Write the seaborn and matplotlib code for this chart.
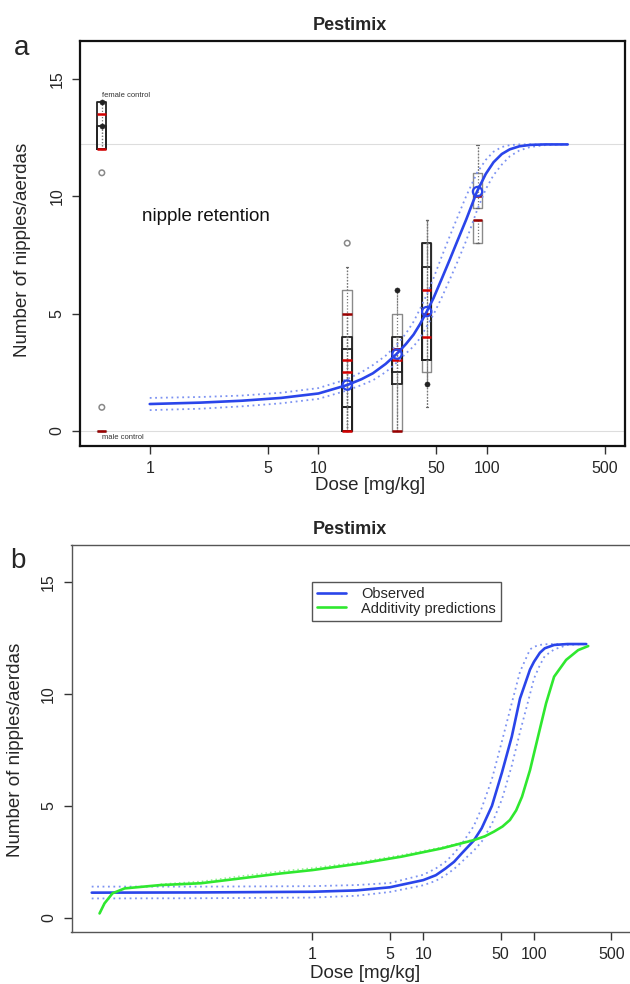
import numpy as np
import pandas as pd
import matplotlib
matplotlib.use("Agg")
import matplotlib.pyplot as plt
import seaborn as sns

# ---------------- data ----------------
# Panel a: fitted dose-response curve and its confidence band
fit_a_dose = [1, 2, 3.5, 6, 10, 14.8, 18, 21, 25, 29, 33, 36.6, 40, 43.8, 48,
              53.9, 60, 66.6, 75, 87, 98, 109, 122, 136, 155, 180, 220, 300]
fit_a_y = [1.14, 1.2, 1.28, 1.4, 1.59, 1.95, 2.2, 2.45, 2.85, 3.27, 3.7, 4.1, 4.55,
           5.08, 5.65, 6.5, 7.3, 8.1, 9.0, 10.2, 10.95, 11.45, 11.8, 12.0, 12.13,
           12.19, 12.21, 12.21]
fit_a_upper = [1.40, 1.44, 1.5, 1.62, 1.82, 2.2, 2.5, 2.8, 3.2, 3.65, 4.15, 4.65, 5.2,
               5.8, 6.5, 7.45, 8.3, 9.1, 10.0, 11.0, 11.55, 11.9, 12.1, 12.18, 12.21,
               12.21, 12.21, 12.21]
fit_a_lower = [0.88, 0.94, 1.04, 1.17, 1.36, 1.72, 1.95, 2.15, 2.5, 2.9, 3.3, 3.6, 3.95,
               4.45, 4.95, 5.7, 6.45, 7.2, 8.1, 9.4, 10.3, 10.9, 11.35, 11.7, 11.95,
               12.1, 12.18, 12.21]
upper_asymptote = 12.21

# Panel a: box plots (several overlapping boxes per dose group)
box_dose = [0.52, 0.52, 0.52, 14.8, 14.8, 14.8, 14.8, 29.2, 29.2, 29.2, 43.8, 43.8, 43.8, 87.6, 87.6]
box_q1   = [12, 12, 0, 0, 1, 0, 0, 0, 2, 2.5, 2.5, 3, 3, 9.5, 8]
box_med  = [13.5, 12, 0, 5, 3, 2.5, 0, 0, 3, 3.5, 5, 6, 4, 10, 9]
box_q3   = [14, 13, 0, 6, 4, 3.5, 1, 5, 4, 3.5, 8, 8, 7, 11, 9]
box_lo   = [12, 12, 0, 0, 0, 0, 0, 0, 0, 2, 1, 2, 3, 9.5, 8]
box_hi   = [14, 13, 0, 7, 5, 4, 3, 6, 4, 4, 9, 9, 8, 12.2, 9]
box_dark = [True, True, False, False, True, True, True, False, True, True, False, True, True, False, False]

open_out_dose = [0.52, 0.52, 14.8]
open_out_y = [11, 1, 8]
filled_out_dose = [0.52, 0.52, 29.2, 43.8]
filled_out_y = [14, 13, 6, 2]
mean_dose = [14.8, 29.2, 43.8, 87.6]
mean_y = [1.95, 3.27, 5.08, 10.2]

ticks_dose = [1, 5, 10, 50, 100, 500]
ticks_dose_labels = ["1", "5", "10", "50", "100", "500"]
ticks_y = [0, 5, 10, 15]

# Panel b: observed curve with band, and additivity predictions
obs_b_dose = [0.0102, 0.1, 1, 2.5, 5, 10, 13, 15.9, 19, 22.3, 28.6, 33.7, 41.7, 51.4, 63,
              74.7, 92, 100, 113, 125, 152, 200, 296]
obs_b_y = [1.12, 1.13, 1.16, 1.22, 1.36, 1.68, 1.9, 2.2, 2.5, 2.88, 3.45, 4.0, 5.0, 6.5, 8.1,
           9.8, 11.1, 11.45, 11.85, 12.05, 12.2, 12.24, 12.24]
obs_b_upper = [1.39, 1.39, 1.41, 1.46, 1.55, 1.92, 2.2, 2.5, 2.88, 3.3, 4.1, 4.9, 6.2, 7.9, 9.6,
               11.0, 12.0, 12.12, 12.2, 12.23, 12.24, 12.24, 12.24]
obs_b_lower = [0.86, 0.87, 0.9, 0.98, 1.15, 1.45, 1.65, 1.9, 2.18, 2.5, 3.0, 3.4, 4.2, 5.3, 6.8,
               8.3, 10.0, 10.7, 11.3, 11.7, 12.0, 12.2, 12.24]

add_b_dose = [0.012, 0.0133, 0.0157, 0.0202, 0.0427, 0.0984, 0.227, 0.522, 1, 2.77,
              6.37, 14.7, 28.6, 36, 43.5, 52, 60.6, 69, 77.9, 92.0, 108.7, 128.5, 151.8,
              194.9, 250.5, 308.5]
add_b_y = [0.19, 0.64, 1.09, 1.31, 1.46, 1.54, 1.76, 1.98, 2.13, 2.43, 2.73, 3.1,
           3.47, 3.64, 3.85, 4.08, 4.37, 4.8, 5.41, 6.6, 8.1, 9.59, 10.78, 11.53,
           11.97, 12.15]
add_band_dose = [0.0427, 0.0984, 0.227, 0.522, 1, 2.77, 6.37, 14.7, 28.6]
add_band_y = [1.5, 1.62, 1.86, 2.08, 2.22, 2.5, 2.8, 3.15, 3.5]

# ---------------- style ----------------
sns.set_theme(style="white")
plt.rcParams["font.family"] = ["Liberation Sans", "DejaVu Sans"]

BLUE = "#2a45ea"
BAND = "#7d93f2"
GREEN = "#2fe82f"

fig = plt.figure(figsize=(6.3, 9.84), dpi=100)
axA = fig.add_axes([80 / 630, 1 - 446 / 984, (624.5 - 80) / 630, (446 - 41) / 984])
axB = fig.add_axes([71.5 / 630, 1 - 932 / 984, (632 - 71.5) / 630, (932 - 545) / 984])

def style_axis(ax, xlim, ylim, spine_color, spine_lw):
    ax.set_xscale("log")
    ax.set_xlim(*xlim)
    ax.set_ylim(*ylim)
    ax.set_xticks(ticks_dose)
    ax.set_xticklabels(ticks_dose_labels)
    ax.xaxis.set_minor_locator(matplotlib.ticker.NullLocator())
    ax.set_yticks(ticks_y)
    ax.set_yticklabels([str(t) for t in ticks_y], rotation=90, va="center")
    ax.tick_params(axis="both", which="major", direction="out", length=6, width=1,
                   color="#333333", labelsize=11.5, pad=5, bottom=True, left=True)
    for s in ax.spines.values():
        s.set_color(spine_color)
        s.set_linewidth(spine_lw)
    ax.set_xlabel("")
    ax.set_ylabel("")

# ---------------- panel a ----------------
axA.set_xscale("log")
axA.axhline(0, color="#dddddd", lw=0.8, zorder=0)
axA.axhline(upper_asymptote, color="#dddddd", lw=0.8, zorder=0)

# boxes
for d, q1, md, q3, lo, hi, dark in zip(box_dose, box_q1, box_med, box_q3, box_lo, box_hi, box_dark):
    ec = "#222222" if dark else "#8a8a8a"
    w = d * 0.13
    stats = [dict(med=md, q1=q1, q3=q3, whislo=lo, whishi=hi, fliers=[])]
    axA.vlines(d, lo, hi, colors="#777777", linestyles=(0, (1, 1.5)), lw=0.9, zorder=2)
    axA.bxp(stats, positions=[d], widths=[w], showfliers=False, manage_ticks=False,
            boxprops=dict(color=ec, lw=1.3 if dark else 1.0),
            whiskerprops=dict(color="#777777", lw=0.9, linestyle=(0, (1, 1.5))),
            capprops=dict(color="#666666", lw=0.9),
            medianprops=dict(color="#d40000" if dark else "#9a0000", lw=1.8),
            capwidths=[w * 0.25])

sns.scatterplot(x=open_out_dose, y=open_out_y, ax=axA, marker="o", s=16,
                facecolor="none", edgecolor="#888888", linewidth=1.1, zorder=4)
sns.scatterplot(x=filled_out_dose, y=filled_out_y, ax=axA, marker="o", s=14,
                color="#222222", edgecolor="#222222", zorder=4)

sns.lineplot(x=fit_a_dose, y=fit_a_upper, ax=axA, color=BAND, lw=1.3, linestyle=(0, (1, 2)), zorder=5)
sns.lineplot(x=fit_a_dose, y=fit_a_lower, ax=axA, color=BAND, lw=1.3, linestyle=(0, (1, 2)), zorder=5)
sns.lineplot(x=fit_a_dose, y=fit_a_y, ax=axA, color=BLUE, lw=1.9, zorder=6)
sns.scatterplot(x=mean_dose, y=mean_y, ax=axA, marker="o", s=45, facecolor="none",
                edgecolor=BLUE, linewidth=1.6, zorder=7)

axA.text(0.52, 14.3, "female control", fontsize=5.5, color="#333333", va="center", ha="left")
axA.text(0.52, -0.27, "male control", fontsize=5.5, color="#333333", va="center", ha="left")
axA.text(0.9, 9.15, "nipple retention", fontsize=13.5, color="#111111", va="center", ha="left")

style_axis(axA, (0.386, 651), (-0.65, 16.62), "#111111", 1.6)

# ---------------- panel b ----------------
sns.lineplot(x=obs_b_dose, y=obs_b_upper, ax=axB, color=BAND, lw=1.3, linestyle=(0, (1, 2)))
sns.lineplot(x=obs_b_dose, y=obs_b_lower, ax=axB, color=BAND, lw=1.3, linestyle=(0, (1, 2)))
sns.lineplot(x=add_band_dose, y=add_band_y, ax=axB, color="#8ff08f", lw=1.1, linestyle=(0, (1, 2)))
sns.lineplot(x=obs_b_dose, y=obs_b_y, ax=axB, color=BLUE, lw=1.9, label="Observed")
sns.lineplot(x=add_b_dose, y=add_b_y, ax=axB, color=GREEN, lw=1.9, label="Additivity predictions")

style_axis(axB, (0.0067, 766), (-0.64, 16.67), "#555555", 1.0)

leg = axB.legend(loc="upper left", bbox_to_anchor=(312 / 630, 1 - 581.7 / 984),
                 bbox_transform=fig.transFigure, borderaxespad=0, fontsize=10.5,
                 frameon=True, fancybox=False, framealpha=1, edgecolor="#555555",
                 handlelength=2.0, handletextpad=1.0, labelspacing=0.05,
                 borderpad=0.35)
leg.get_frame().set_linewidth(1.0)

# ---------------- figure texts ----------------
fig.text(350 / 630, 1 - 25 / 984, "Pestimix", ha="center", va="center", fontsize=13, fontweight="bold")
fig.text(350 / 630, 1 - 530 / 984, "Pestimix", ha="center", va="center", fontsize=13, fontweight="bold")
fig.text(22 / 630, 1 - 48 / 984, "a", ha="center", va="center", fontsize=20)
fig.text(18 / 630, 1 - 561 / 984, "b", ha="center", va="center", fontsize=20)
fig.text(370 / 630, 1 - 486 / 984, "Dose [mg/kg]", ha="center", va="center", fontsize=13.5)
fig.text(365 / 630, 1 - 973 / 984, "Dose [mg/kg]", ha="center", va="center", fontsize=13.5)
fig.text(23 / 630, 1 - 250 / 984, "Number of nipples/aerdas", ha="center", va="center",
         fontsize=13.5, rotation=90)
fig.text(16 / 630, 1 - 750 / 984, "Number of nipples/aerdas", ha="center", va="center",
         fontsize=13.5, rotation=90)

fig.savefig("out.png", dpi=100, facecolor="white")
